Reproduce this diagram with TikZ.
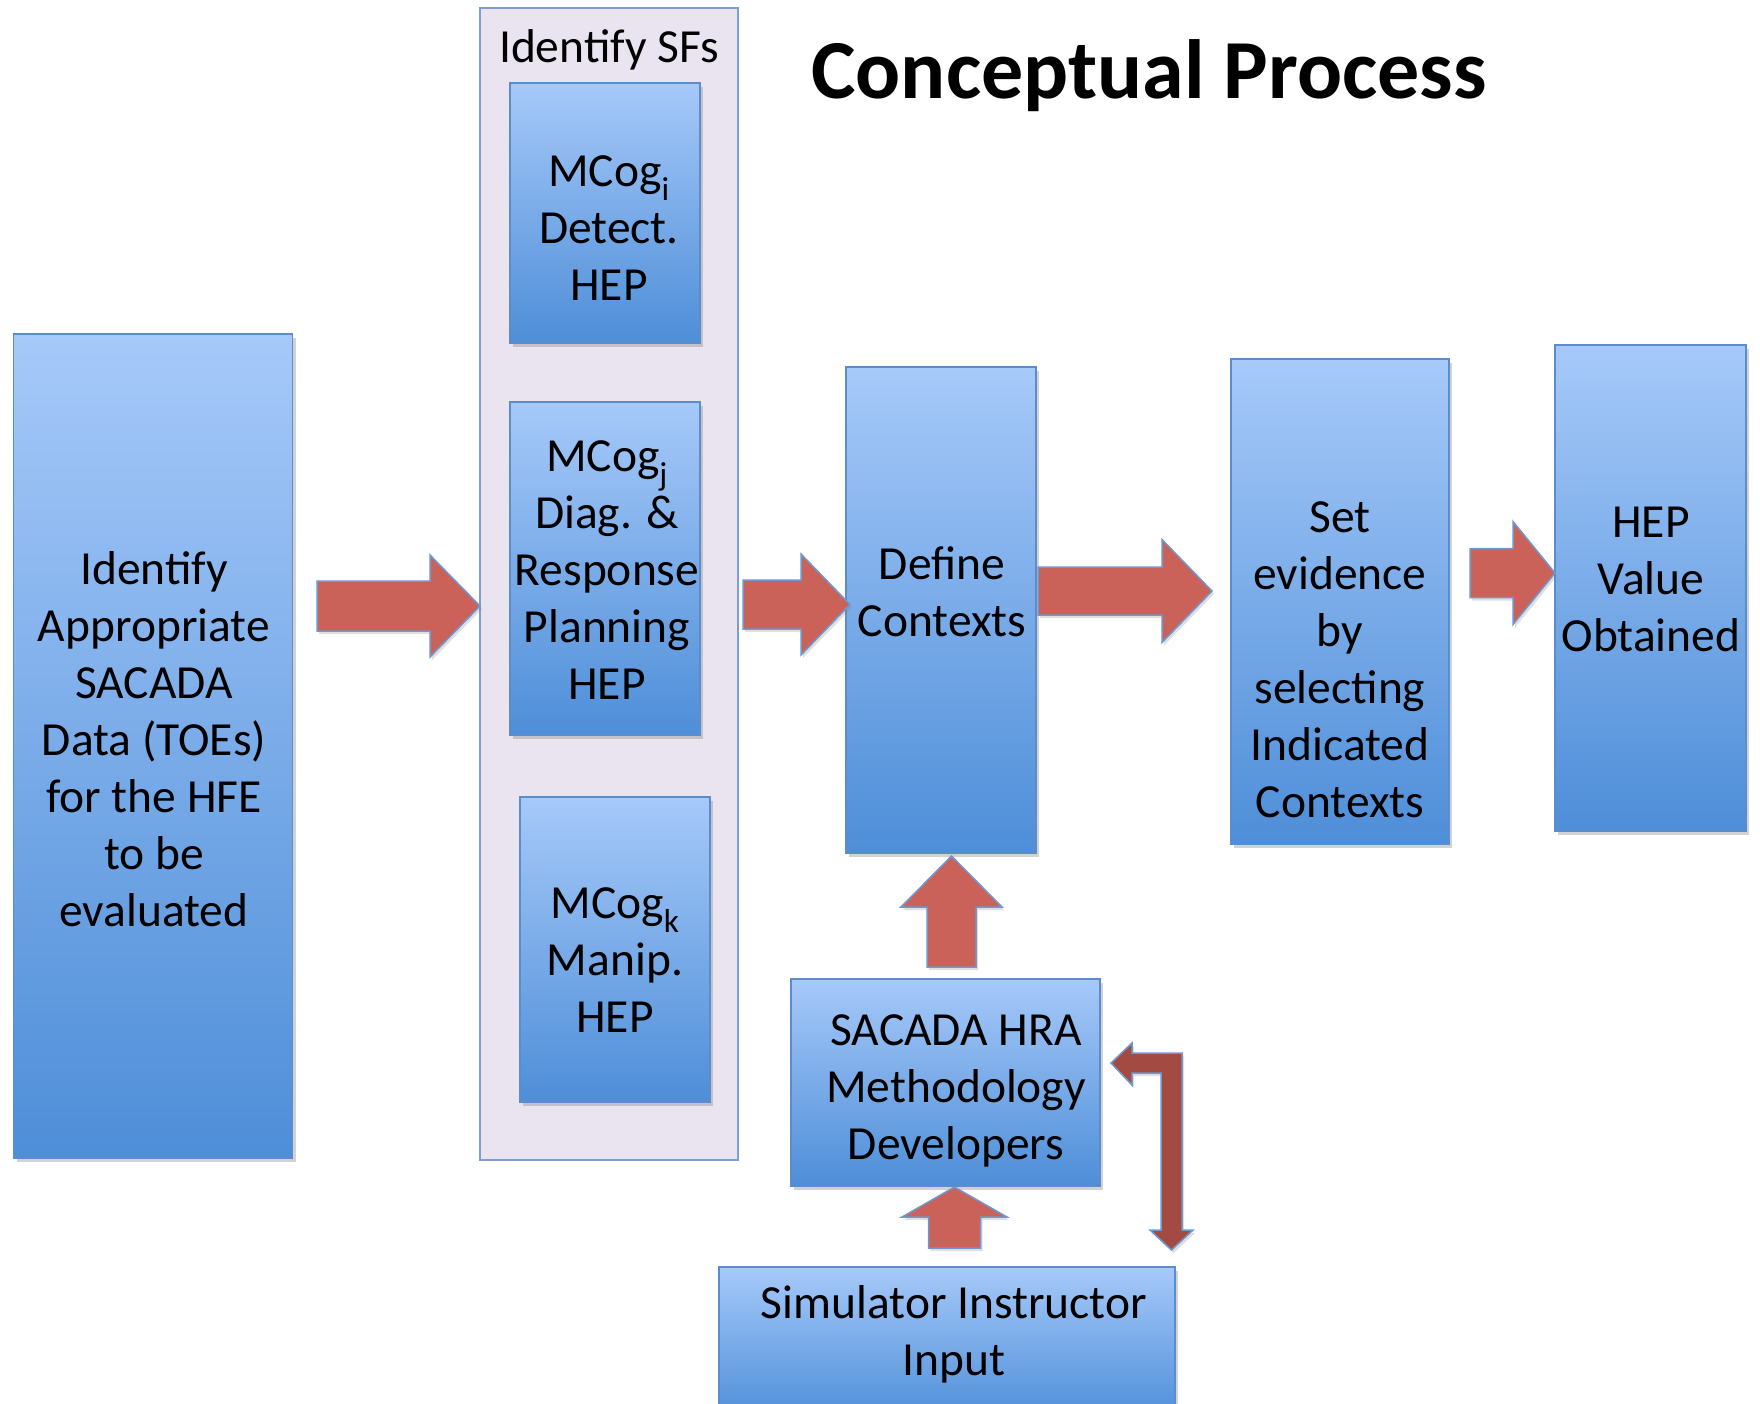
\documentclass[tikz,border=0pt]{standalone}
\usepackage{fontspec}
\setmainfont{Carlito}
\usetikzlibrary{shadows}
\definecolor{boxtop}{HTML}{A6C9F9}
\definecolor{boxbot}{HTML}{4E8ED8}
\definecolor{bordc}{HTML}{5B8CCB}
\definecolor{arrfill}{HTML}{CB6259}
\definecolor{arrbord}{HTML}{6F98CE}
\definecolor{darkarr}{HTML}{A34B43}
\definecolor{contfill}{HTML}{E9E4EF}
\definecolor{contbord}{HTML}{7BA0D0}
\tikzset{
  gbox/.style={rectangle, draw=bordc, line width=1.5pt, top color=boxtop, bottom color=boxbot, inner sep=0pt,
    drop shadow={opacity=0.35, shadow xshift=3pt, shadow yshift=-4pt}},
  cont/.style={rectangle, draw=contbord, line width=1.5pt, fill=contfill, inner sep=0pt},
  btext/.style={align=center, font=\fontsize{47.5}{57}\selectfont, inner sep=0pt},
  barrow/.style={fill=arrfill, draw=arrbord, line width=1.5pt, line join=miter,
    drop shadow={opacity=0.25, shadow xshift=2pt, shadow yshift=-3pt}},
  darrow/.style={fill=darkarr, draw=arrbord, line width=1.5pt, line join=miter,
    drop shadow={opacity=0.25, shadow xshift=2pt, shadow yshift=-3pt}},
}
% horizontal block arrow: tailx, basex, tipx, cy, shaft half, head half
\newcommand\hblockarrow[6]{%
  \path[barrow] (#1,{#4-#5}) -- (#2,{#4-#5}) -- (#2,{#4-#6}) -- (#3,#4) -- (#2,{#4+#6}) -- (#2,{#4+#5}) -- (#1,{#4+#5}) -- cycle;}
% vertical block arrow (upwards): taily, basey, tipy, cx, shaft half, head half
\newcommand\vblockarrow[6]{%
  \path[barrow] ({#4-#5},#1) -- ({#4-#5},#2) -- ({#4-#6},#2) -- (#4,#3) -- ({#4+#6},#2) -- ({#4+#5},#2) -- ({#4+#5},#1) -- cycle;}
\begin{document}
\begin{tikzpicture}[x=1pt,y=-1pt]
\useasboundingbox (0,0) rectangle (1760,1403);
\clip (0,0) rectangle (1760,1403);
\fill[white] (0,0) rectangle (1760,1403);

% title
\node[font=\fontsize{84}{100}\selectfont\bfseries, inner sep=0pt] (title) at (1149,76) {Conceptual Process};

% boxes
\node[gbox, minimum width=279pt, minimum height=824pt] (L) at (153,746) {};
\node[cont, minimum width=258pt, minimum height=1152pt] (sf) at (609,584) {};
\node[gbox, minimum width=190pt, minimum height=260pt] (mi) at (605,213) {};
\node[gbox, minimum width=190pt, minimum height=333pt] (mj) at (605,568.5) {};
\node[gbox, minimum width=190pt, minimum height=305pt] (mk) at (615,949.5) {};
\node[gbox, minimum width=190pt, minimum height=486pt] (dc) at (941,610) {};
\node[gbox, minimum width=218pt, minimum height=485pt] (se) at (1340,601.5) {};
\node[gbox, minimum width=191pt, minimum height=486pt] (hv) at (1650.5,588) {};
\node[gbox, minimum width=309pt, minimum height=207pt] (sh) at (945.5,1082.5) {};
\node[gbox, minimum width=456pt, minimum height=153pt] (si) at (947,1343.5) {};

% texts
\node[btext] (tL) at (154,739) {Identify\\Appropriate\\SACADA\\Data (TOEs)\\for the HFE\\to be\\evaluated};
\node[btext] (tsf) at (609,50) {Identify SFs};
\node[btext] (tmi) at (609,228) {MCog\textsubscript{i}\\Detect.\\HEP};
\node[btext] (tmj) at (607,570) {MCog\textsubscript{j}\\Diag. \&\\Response\\Planning\\HEP};
\node[btext] (tmk) at (615,960) {MCog\textsubscript{k}\\Manip.\\HEP};
\node[btext] (tdc) at (942,592) {Define\\Contexts};
\node[btext] (tse) at (1340,660) {Set\\evidence\\by\\selecting\\Indicated\\Contexts};
\node[btext] (thv) at (1651,579) {HEP\\Value\\Obtained};
\node[btext] (tsh) at (956,1091) {SACADA HRA\\Methodology\\Developers};
\node[btext] (tsi) at (954,1334) {Simulator Instructor\\Input};

% block arrows
\hblockarrow{317}{430}{480}{606}{25}{51}
\hblockarrow{743}{801}{850}{604.5}{24.5}{50.5}
\hblockarrow{1038}{1162}{1212}{591}{24}{51.5}
\hblockarrow{1470}{1513}{1555}{573}{24.5}{51.5}
\vblockarrow{967}{907}{856}{951.5}{24.5}{50.5}
\vblockarrow{1248}{1217}{1187}{954.5}{26}{52.5}

% bent double arrow
\path[darrow] (1111,1063) -- (1132,1043) -- (1132,1053) -- (1182,1053) -- (1182,1230) -- (1193,1230)
  -- (1171.5,1250) -- (1150,1230) -- (1161,1230) -- (1161,1073) -- (1132,1073) -- (1132,1085) -- cycle;
\end{tikzpicture}
\end{document}
